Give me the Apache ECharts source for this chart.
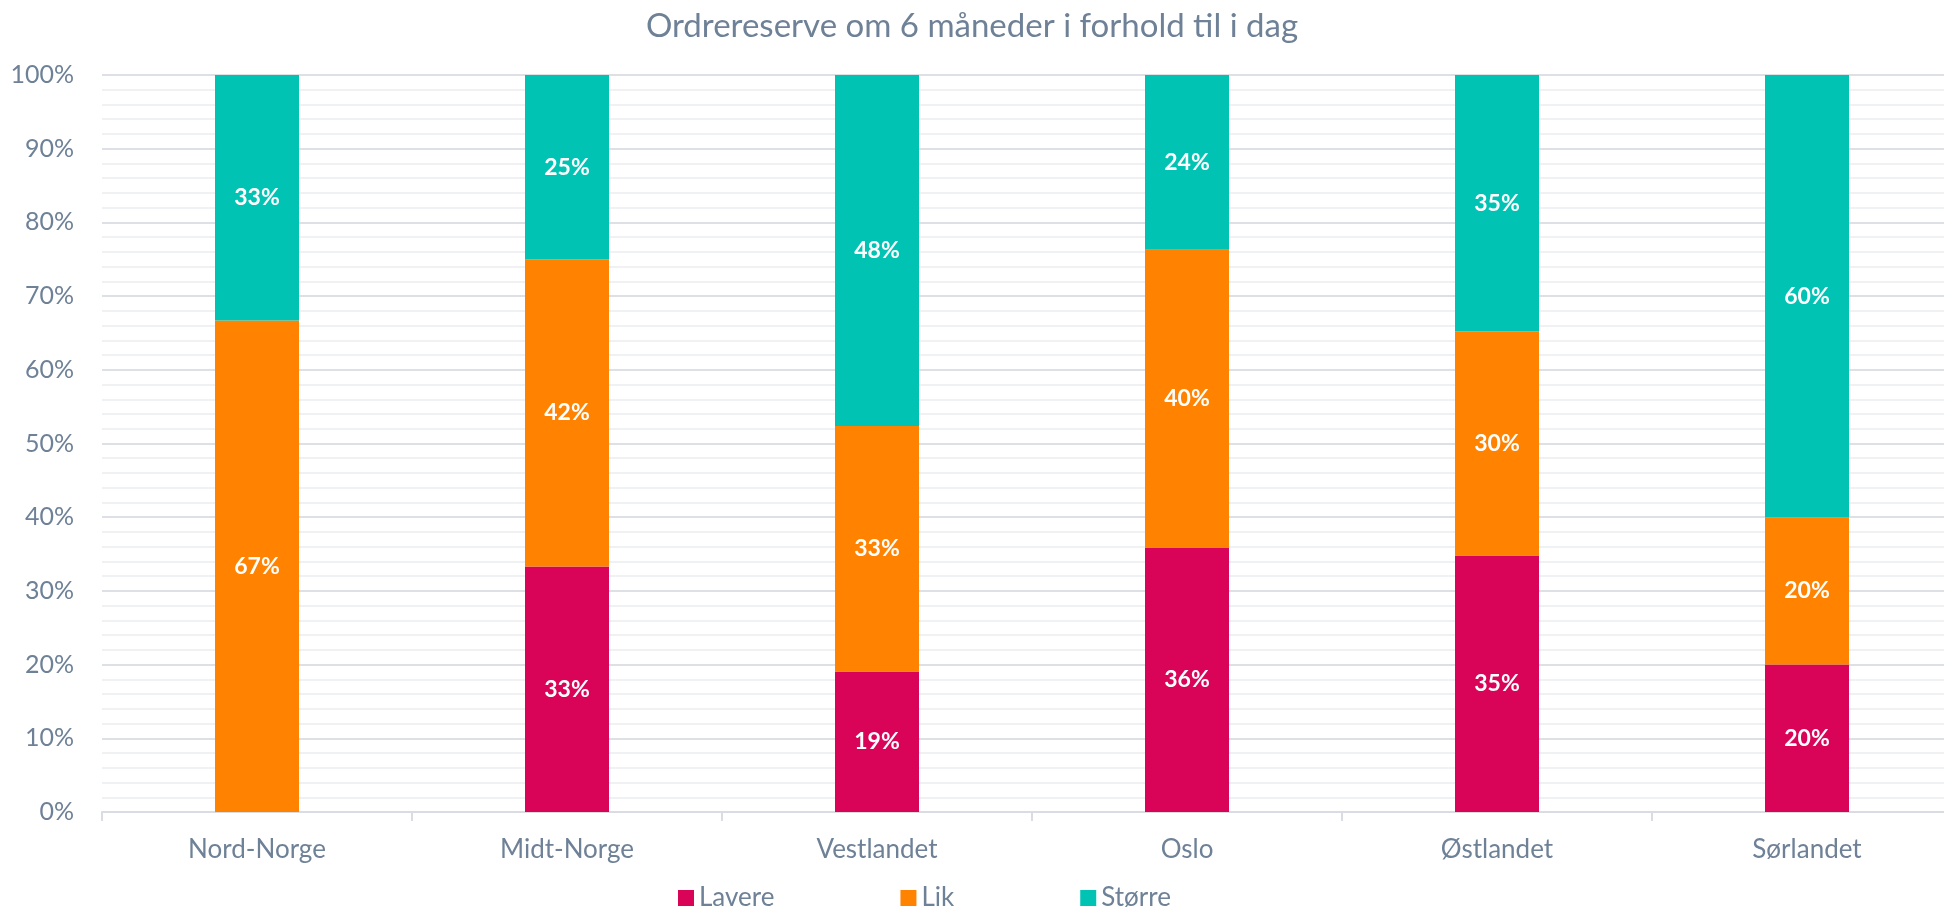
<!DOCTYPE html>
<html>
<head>
<meta charset="utf-8">
<script src="https://cdn.jsdelivr.net/npm/echarts@6/dist/echarts.min.js"></script>
<style>
html,body{margin:0;padding:0;background:#fff;overflow:hidden;}
#chart{width:1944px;height:909px;}
</style>
</head>
<body>
<div id="chart"></div>
<script>
const title = 'Ordrereserve om 6 måneder i forhold til i dag';
const categories = ['Nord-Norge', 'Midt-Norge', 'Vestlandet', 'Oslo', 'Østlandet', 'Sørlandet'];
const seriesNames = ['Lavere', 'Lik', 'Større'];
const lavere = [0, 33.3, 19.05, 35.9, 34.8, 20];
const lik = [66.7, 41.7, 33.33, 40.4, 30.4, 20];
const storre = [33.3, 25.0, 47.62, 23.7, 34.8, 60];
const colors = ['#D90358', '#FF8300', '#00C3B4'];

const textColor = '#6E8197';
const font = 'Lato, "Open Sans", sans-serif';

function mk(name, data, color) {
  return {
    name: name,
    type: 'bar',
    stack: 'total',
    data: data,
    barWidth: 84,
    itemStyle: { color: color },
    label: {
      show: true,
      position: 'inside',
      color: '#fff',
      fontWeight: 'bold',
      fontSize: 23,
      fontFamily: font,
      formatter: p => p.value > 0 ? Math.round(p.value) + '%' : ''
    }
  };
}

const chart = echarts.init(document.getElementById('chart'));
chart.setOption({
  animation: false,
  title: {
    text: title,
    left: 'center',
    top: 5,
    textStyle: { color: textColor, fontSize: 33, fontWeight: 'normal', fontFamily: font }
  },
  legend: {
    data: seriesNames,
    top: 880,
    left: 673,
    itemWidth: 16,
    itemHeight: 16,
    itemGap: 126,
    icon: 'rect',
    textStyle: { color: textColor, fontSize: 26, fontFamily: font }
  },
  grid: { left: 102, width: 1860, top: 75, bottom: 97, containLabel: false, outerBoundsMode: 'none' },
  xAxis: {
    type: 'category',
    data: categories,
    axisLine: { lineStyle: { color: '#D9DDE3', width: 2 } },
    axisTick: { show: true, length: 9, lineStyle: { color: '#D9DDE3', width: 2 } },
    axisLabel: { color: textColor, fontSize: 26, fontFamily: font, margin: 25 }
  },
  yAxis: {
    type: 'value',
    min: 0,
    max: 100,
    interval: 10,
    axisLine: { show: false },
    axisTick: { show: false },
    axisLabel: { color: textColor, fontSize: 25, fontFamily: font, margin: 28, formatter: v => v + '%' },
    splitLine: { lineStyle: { color: '#DDE1E6', width: 2 } },
    minorTick: { show: false, splitNumber: 5 },
    minorSplitLine: { show: true, lineStyle: { color: '#F0F1F3', width: 2 } }
  },
  series: [
    mk(seriesNames[0], lavere, colors[0]),
    mk(seriesNames[1], lik, colors[1]),
    mk(seriesNames[2], storre, colors[2])
  ]
});
</script>
</body>
</html>
